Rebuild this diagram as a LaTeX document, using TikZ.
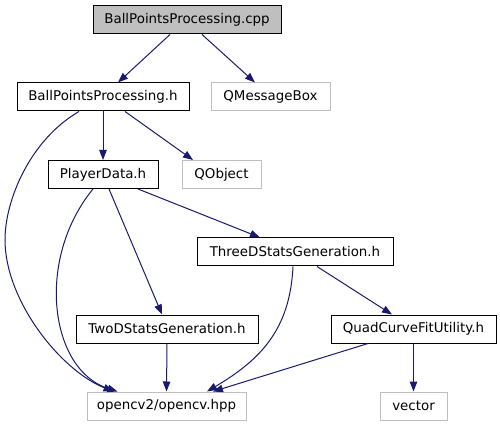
\documentclass[tikz,border=0pt]{standalone}
\usepackage{fontspec}
\setmainfont{DejaVu Sans}
\usepackage{tikz}
\usetikzlibrary{arrows.meta}
\definecolor{edgeblue}{HTML}{191970}
\definecolor{boxgray}{HTML}{BFBFBF}
\tikzset{
  filebox/.style ={draw=black, fill=white, rectangle, minimum height=28pt, inner sep=0pt, line width=1pt, font=\fontsize{13.4}{15}\selectfont},
  rootbox/.style ={filebox, fill=boxgray},
  extbox/.style  ={filebox, draw=boxgray},
  inc/.style     ={-{Triangle[length=10pt, width=7.5pt]}, line width=1pt, edgeblue}, % include edge
}

\begin{document}
\begin{tikzpicture}[x=1pt, y=-1pt]
  \useasboundingbox (0,0) rectangle (500,427);

  % files and headers
  \node[rootbox, minimum width=188pt] (cpp)   at (187,20)    {BallPointsProcessing.cpp};
  \node[filebox, minimum width=172pt] (bph)   at (103,97)    {BallPointsProcessing.h};
  \node[extbox,  minimum width=119pt] (qmsg)  at (270.5,97)  {QMessageBox};
  \node[filebox, minimum width=110pt] (pd)    at (103,174.5) {PlayerData.h};
  \node[extbox,  minimum width=79pt]  (qobj)  at (221.5,174.5) {QObject};
  \node[filebox, minimum width=196pt] (three) at (295,252)   {ThreeDStatsGeneration.h};
  \node[filebox, minimum width=182pt] (two)   at (167,329)   {TwoDStatsGeneration.h};
  \node[filebox, minimum width=165pt] (quad)  at (413.5,329) {QuadCurveFitUtility.h};
  \node[extbox,  minimum width=159pt] (cv)    at (166.5,406) {opencv2/opencv.hpp};
  \node[extbox,  minimum width=67pt]  (vec)   at (413.5,406) {vector};

  % includes
  \draw[inc] ([xshift=-17pt]cpp.south) -- ([xshift=15pt]bph.north);
  \draw[inc] ([xshift=15pt]cpp.south) -- ([xshift=-15.5pt]qmsg.north);
  \draw[inc] (bph.south) -- (pd.north);
  \draw[inc] ([xshift=22pt]bph.south) -- ([xshift=-28.5pt]qobj.north);
  \draw[inc] ([xshift=-24pt]bph.south) .. controls (30,140) and (5,200) .. (5,240)
                                        .. controls (5,300) and (60,370) .. ([xshift=-53pt]cv.north);
  \draw[inc] ([xshift=-10pt]pd.south) .. controls (35,260) and (50,370) .. ([xshift=-49pt]cv.north);
  \draw[inc] ([xshift=6pt]pd.south) -- ([xshift=-5pt]two.north);
  \draw[inc] ([xshift=35pt]pd.south) -- ([xshift=-35pt]three.north);
  \draw[inc] ([xshift=-2pt]three.south) .. controls (290,330) and (260,360) .. ([xshift=40.5pt]cv.north);
  \draw[inc] ([xshift=22pt]three.south) -- ([xshift=-21.5pt]quad.north);
  \draw[inc] (two.south) -- (cv.north);
  \draw[inc] ([xshift=-45.5pt]quad.south) -- ([xshift=46.5pt]cv.north);
  \draw[inc] (quad.south) -- (vec.north);
\end{tikzpicture}
\end{document}
